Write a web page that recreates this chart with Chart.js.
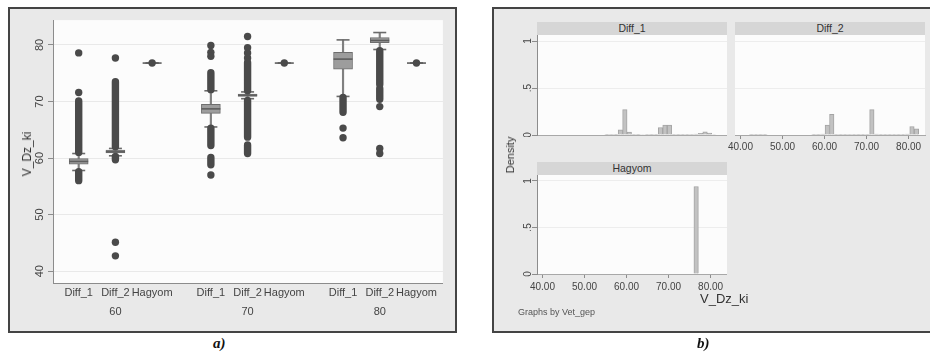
<!DOCTYPE html>
<html>
<head>
<meta charset="utf-8">
<script src="https://cdn.jsdelivr.net/npm/chart.js@4.4.0/dist/chart.umd.min.js"></script>
<style>
  body { margin: 0; width: 930px; height: 352px; background: #fff; position: relative; overflow: hidden;
         font-family: "Liberation Sans", Arial, sans-serif; }
  .frame { position: absolute; background: #e9e9e9; border: 2px solid #444; box-sizing: border-box; }
  #frameA { left: 8px; top: 7px; width: 449px; height: 326px; }
  #frameB { left: 492px; top: 7px; width: 450px; height: 326px; }
  canvas { position: absolute; }
  .strip { position: absolute; background: #d6d6d6; color: #333; font-size: 10.5px; text-align: center; line-height: 13px; height: 13px; }
  .txt { position: absolute; white-space: nowrap; color: #333; }
  .rot { transform: translate(-50%, -50%) rotate(-90deg); }
  .cap { position: absolute; font: italic bold 15px "Liberation Serif", serif; color: #111; }
</style>
</head>
<body>
<div class="frame" id="frameA"></div>
<div class="frame" id="frameB"></div>

<canvas id="boxChart" width="444" height="322" style="left:10px;top:9px"></canvas>
<div class="txt rot" style="left:27px;top:154px;font-size:12px">V_Dz_ki</div>

<div class="strip" style="left:537px;top:22px;width:190px">Diff_1</div>
<div class="strip" style="left:735px;top:22px;width:190px">Diff_2</div>
<div class="strip" style="left:537px;top:162px;width:190px">Hagyom</div>
<canvas id="histDiff1" width="212" height="102" style="left:515px;top:35px"></canvas>
<canvas id="histDiff2" width="210" height="120" style="left:720px;top:35px"></canvas>
<canvas id="histHagyom" width="212" height="119" style="left:515px;top:175px"></canvas>

<div class="txt rot" style="left:510px;top:155px;font-size:11px">Density</div>
<div class="txt" style="left:700px;top:291px;font-size:13px">V_Dz_ki</div>
<div class="txt" style="left:518px;top:307px;font-size:9px;color:#555">Graphs by Vet_gep</div>

<div class="cap" style="left:213px;top:335px">a)</div>
<div class="cap" style="left:697px;top:335px">b)</div>

<script>
// ---------- panel a: box plots of V_Dz_ki by Vet_gep and method ----------
const vetGroups = ['60', '70', '80'];
const methods = ['Diff_1', 'Diff_2', 'Hagyom'];
const yTicksA = [40, 50, 60, 70, 80];

// one entry per box: 60 Diff_1, 60 Diff_2, 60 Hagyom, 70 ..., 80 ...
const boxLowWhisker  = [57.8, 60.4, 76.8, 65.5, 70.5, 76.8, 70.9, 79.2, 76.8];
const boxQ1          = [58.9, 60.9, 76.8, 67.9, 70.9, 76.8, 75.7, 80.4, 76.8];
const boxMedian      = [59.4, 61.1, 76.8, 68.7, 71.1, 76.8, 77.5, 80.8, 76.8];
const boxQ3          = [59.9, 61.4, 76.8, 69.5, 71.3, 76.8, 78.7, 81.3, 76.8];
const boxHighWhisker = [60.8, 61.7, 76.8, 71.9, 71.7, 76.8, 80.9, 82.2, 76.8];

// outliers packed so densely they form a solid column: [low, high] per run
const runBox  = [0,    0,    1,    1,    3,    3,    3,    4,    4,    4,    6,    7,    7];
const runLow  = [61.0, 56.0, 62.0, 59.7, 72.1, 62.2, 58.8, 71.9, 63.7, 60.8, 68.1, 73.0, 70.4];
const runHigh = [70.1, 57.6, 73.5, 60.3, 75.1, 65.3, 60.1, 76.9, 70.2, 62.3, 70.7, 79.0, 72.3];

// separate outlier dots
const outBox   = [0,    0,    1,    1,    1,    2,    3,    3,    3,    3,    4,    4,    4,    4,    5,    6,    6,    7,    7,    7,    8];
const outValue = [78.6, 71.6, 77.7, 45.1, 42.7, 76.8, 79.9, 78.7, 78.0, 57.0, 81.5, 79.5, 78.6, 77.7, 76.8, 65.3, 63.6, 69.1, 61.7, 60.8, 76.8];

// ---------- panel b: density histograms of V_Dz_ki by method ----------
const histBins = [42.64, 43.70, 44.76, 45.82, 46.88, 47.94, 49.00, 50.06, 51.12, 52.18,
                  53.24, 54.30, 55.36, 56.42, 57.48, 58.54, 59.60, 60.66, 61.72, 62.78,
                  63.84, 64.90, 65.96, 67.02, 68.08, 69.14, 70.20, 71.26, 72.32, 73.38,
                  74.44, 75.50, 76.56, 77.62, 78.68, 79.74, 80.80, 81.86];
const densityDiff1 = [0, 0, 0, 0, 0, 0, 0, 0, 0, 0,
                      0, 0, 0.003, 0.006, 0.008, 0.055, 0.27, 0.03, 0.006, 0.004,
                      0.005, 0.006, 0.008, 0.006, 0.08, 0.105, 0.105, 0.006, 0.004, 0.003,
                      0.004, 0.006, 0.01, 0.018, 0.035, 0.02, 0.005, 0];
const densityDiff2 = [0.003, 0.002, 0.003, 0.002, 0, 0, 0, 0, 0, 0,
                      0, 0, 0, 0, 0.002, 0.004, 0.01, 0.105, 0.22, 0.006,
                      0.004, 0.004, 0.006, 0.004, 0.003, 0.004, 0.006, 0.27, 0.01, 0.004,
                      0.004, 0.004, 0.004, 0.004, 0.004, 0.01, 0.09, 0.065];
const densityHagyom = [0, 0, 0, 0, 0, 0, 0, 0, 0, 0,
                       0, 0, 0, 0, 0, 0, 0, 0, 0, 0,
                       0, 0, 0, 0, 0, 0, 0, 0, 0, 0,
                       0, 0, 0.94, 0, 0, 0, 0, 0];
const xTicksB = [40, 50, 60, 70, 80];
const yTicksB = [0, 0.5, 1];
const yTickLabelsB = ['0', '.5', '1'];

const FONT = 'Liberation Sans';
const AXIS = '#8c8c8c';

// white plot region
const plotBg = {
  id: 'plotBg',
  beforeDraw(chart) {
    const a = chart.chartArea, ctx = chart.ctx;
    ctx.save();
    ctx.fillStyle = '#fcfcfc';
    ctx.fillRect(a.left, a.top, a.right - a.left, a.bottom - a.top);
    ctx.restore();
  }
};

// stata writes the y tick labels turned on their side
function rotatedYLabels(values, labels, offset, size) {
  return {
    id: 'rotatedYLabels',
    afterDraw(chart) {
      const s = chart.scales.y, ctx = chart.ctx;
      ctx.save();
      ctx.font = size + 'px ' + FONT;
      ctx.fillStyle = '#444';
      ctx.textAlign = 'center';
      ctx.textBaseline = 'middle';
      values.forEach((v, i) => {
        ctx.save();
        ctx.translate(s.right - offset, s.getPixelForValue(v));
        ctx.rotate(-Math.PI / 2);
        ctx.fillText(labels[i], 0, 0);
        ctx.restore();
      });
      ctx.restore();
    }
  };
}

// x position of each box: three methods per group, a wider gap between groups
const boxPos = [];
vetGroups.forEach((g, gi) => methods.forEach((m, mi) => boxPos.push(gi * 3.6 + mi)));

const whiskers = [];
const caps = [];
boxPos.forEach((x, i) => {
  whiskers.push({x: x, y: [boxLowWhisker[i], boxQ1[i]]});
  whiskers.push({x: x, y: [boxQ3[i], boxHighWhisker[i]]});
  caps.push({x: x, y: boxLowWhisker[i]}, {x: x, y: boxHighWhisker[i]});
});

const runs = [];
runBox.forEach((b, i) => {
  runs.push({x: boxPos[b], y: runLow[i]}, {x: boxPos[b], y: runHigh[i]}, {x: boxPos[b], y: null});
});

new Chart(document.getElementById('boxChart'), {
  type: 'bar',
  data: {
    datasets: [
      {
        type: 'line', data: runs, order: 0,
        borderColor: '#4a4a4a', borderWidth: 7.4, borderCapStyle: 'round',
        pointRadius: 0, spanGaps: false, tension: 0
      },
      {
        type: 'scatter', order: 0,
        data: outBox.map((b, i) => ({x: boxPos[b], y: outValue[i]})),
        pointRadius: 3.7, backgroundColor: '#4a4a4a', borderWidth: 0
      },
      {
        type: 'scatter', data: boxPos.map((x, i) => ({x: x, y: boxMedian[i]})), order: 1,
        pointStyle: 'line', pointRadius: 9.5, borderColor: '#5e5e5e', borderWidth: 1.6
      },
      {
        type: 'scatter', data: caps, order: 1,
        pointStyle: 'line', pointRadius: 6.5, borderColor: '#6a6a6a', borderWidth: 1.6
      },
      {
        data: boxPos.map((x, i) => ({x: x, y: [boxQ1[i], boxQ3[i]]})), order: 2,
        grouped: false, barThickness: 19, backgroundColor: '#9d9d9d',
        borderColor: '#6e6e6e', borderWidth: 1, borderSkipped: false
      },
      {
        data: whiskers, order: 3,
        grouped: false, barThickness: 1.5, backgroundColor: '#808080', borderWidth: 0
      }
    ]
  },
  options: {
    responsive: false,
    animation: false,
    events: [],
    layout: {padding: {top: 8, right: 8, left: 0, bottom: 0}},
    plugins: {legend: {display: false}, tooltip: {enabled: false}},
    scales: {
      x: {
        type: 'linear', min: -0.7, max: 9.92, offset: false,
        afterBuildTicks: s => { s.ticks = boxPos.map(v => ({value: v})); },
        afterFit: s => { s.height = 48; },
        grid: {display: false, drawTicks: false, offset: false},
        border: {color: AXIS},
        ticks: {
          padding: 1, color: '#444', maxRotation: 0, autoSkip: false,
          font: {size: 11, family: FONT, lineHeight: 1.72},
          callback: (v, i) => i % 3 === 1 ? [methods[1], vetGroups[(i - 1) / 3]] : methods[i % 3]
        }
      },
      y: {
        min: 37.9, max: 84.4,
        afterBuildTicks: s => { s.ticks = yTicksA.map(v => ({value: v})); },
        afterFit: s => { s.width = 43; },
        grid: {color: '#e9e9e9', tickColor: AXIS, tickLength: 5},
        border: {color: AXIS},
        ticks: {display: false}
      }
    }
  },
  plugins: [plotBg, rotatedYLabels(yTicksA, yTicksA.map(String), 13, 11)]
});

// ---------- panel b facets ----------
function facet(id, density, cfg) {
  const plugins = [plotBg];
  if (cfg.yLabels) plugins.push(rotatedYLabels(yTicksB, yTickLabelsB, 9, 10));
  new Chart(document.getElementById(id), {
    type: 'bar',
    data: {
      datasets: [{
        data: histBins.map((c, i) => ({x: c, y: density[i]})),
        backgroundColor: '#c2c2c2', borderColor: '#a4a4a4', borderWidth: 1,
        barPercentage: 1, categoryPercentage: 1
      }]
    },
    options: {
      responsive: false,
      animation: false,
      events: [],
      layout: {padding: cfg.padding},
      plugins: {legend: {display: false}, tooltip: {enabled: false}},
      scales: {
        x: {
          type: 'linear', min: 38.7, max: 83.9, offset: false,
          afterBuildTicks: s => { s.ticks = xTicksB.map(v => ({value: v})); },
          afterFit: s => { s.height = cfg.xHeight; },
          grid: {drawOnChartArea: false, drawTicks: cfg.xLabels, tickLength: 4, tickColor: AXIS, offset: false},
          border: {color: '#a8a8a8'},
          ticks: {
            display: cfg.xLabels, padding: cfg.xPad, color: '#444', maxRotation: 0, autoSkip: false,
            font: {size: 10, family: FONT},
            callback: v => v.toFixed(2)
          }
        },
        y: {
          min: 0, max: 1.064,
          afterBuildTicks: s => { s.ticks = yTicksB.map(v => ({value: v})); },
          afterFit: s => { s.width = cfg.yWidth; },
          grid: {color: '#ededed', drawTicks: cfg.yLabels, tickLength: 5, tickColor: AXIS},
          border: {display: cfg.yLabels, color: AXIS},
          ticks: {display: false}
        }
      }
    },
    plugins: plugins
  });
}

facet('histDiff1', densityDiff1, {yLabels: true, xLabels: false, yWidth: 22, xHeight: 2, xPad: 0, padding: 0});
facet('histDiff2', densityDiff2, {yLabels: false, xLabels: true, yWidth: 0, xHeight: 20, xPad: 2, padding: {left: 15, right: 5}});
facet('histHagyom', densityHagyom, {yLabels: true, xLabels: true, yWidth: 22, xHeight: 20, xPad: 3, padding: 0});
</script>
</body>
</html>
